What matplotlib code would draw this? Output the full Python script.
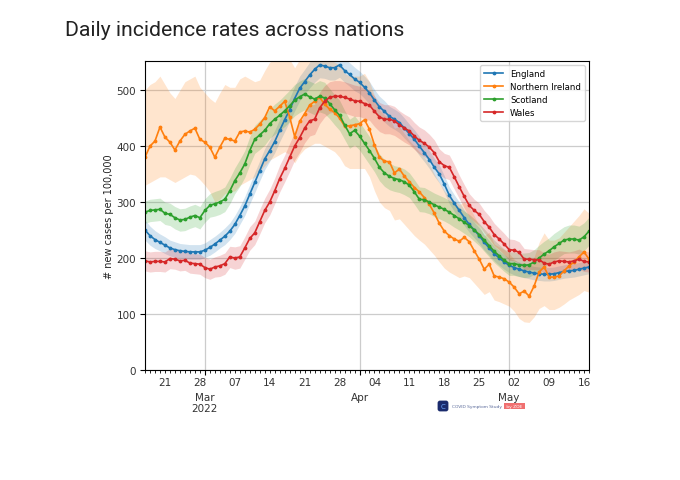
import numpy as np
import pandas as pd
import matplotlib
matplotlib.use("Agg")
import matplotlib.pyplot as plt
import matplotlib.dates as mdates
from matplotlib.ticker import FuncFormatter, FixedLocator, FixedFormatter
from matplotlib.patches import FancyBboxPatch

# ---------------- data ----------------
start_date = "2022-02-17"
end_date = "2022-05-17"

england = [250, 240, 233, 228, 223, 218, 215, 213, 212, 211,
           211, 211, 214, 219, 225, 232, 239, 248, 260, 276,
           293, 314, 335, 356, 377, 392, 408, 428, 447, 465,
           485, 503, 515, 527, 537, 545, 543, 540, 540, 545,
           535, 528, 520, 514, 505, 495, 482, 470, 462, 453,
           448, 442, 432, 422, 412, 400, 388, 376, 362, 350,
           332, 312, 298, 285, 272, 260, 250, 240, 228, 218,
           208, 200, 193, 187, 183, 180, 177, 175, 173, 172,
           171, 171, 172, 174, 176, 177, 178, 180, 182, 184]

northern_ireland = [380, 400, 409, 434, 416, 407, 393, 409, 421, 427,
                    432, 412, 407, 398, 380, 398, 414, 412, 409, 425,
                    427, 425, 430, 439, 451, 470, 463, 471, 480, 452,
                    417, 444, 458, 473, 480, 487, 475, 466, 460, 450,
                    436, 436, 438, 440, 447, 430, 402, 380, 373, 372,
                    352, 359, 346, 336, 326, 318, 308, 296, 280, 262,
                    248, 240, 234, 230, 237, 229, 213, 198, 180, 189,
                    168, 166, 163, 157, 148, 136, 141, 132, 150, 175,
                    184, 166, 166, 168, 177, 186, 193, 202, 211, 198]

scotland = [282, 285, 286, 287, 280, 278, 272, 268, 269, 273,
            276, 272, 285, 294, 297, 300, 305, 320, 338, 352,
            368, 392, 412, 420, 428, 440, 448, 455, 463, 472,
            482, 488, 493, 488, 484, 489, 486, 476, 465, 455,
            438, 422, 428, 418, 405, 392, 378, 362, 352, 346,
            342, 340, 336, 330, 318, 305, 304, 300, 295, 291,
            287, 282, 276, 270, 264, 258, 250, 242, 232, 222,
            212, 204, 196, 190, 190, 188, 187, 188, 193, 200,
            207, 213, 220, 226, 232, 234, 234, 232, 238, 248]

wales = [195, 193, 194, 194, 193, 199, 198, 195, 196, 191,
         190, 189, 183, 180, 184, 186, 190, 202, 200, 202,
         218, 235, 245, 265, 285, 300, 320, 342, 360, 380,
         400, 415, 432, 445, 448, 468, 480, 487, 489, 489,
         487, 484, 481, 480, 476, 473, 462, 452, 448, 448,
         445, 438, 432, 427, 418, 410, 405, 398, 388, 372,
         365, 362, 345, 327, 310, 294, 285, 278, 265, 255,
         242, 234, 225, 215, 214, 210, 198, 198, 197, 197,
         191, 189, 193, 195, 194, 193, 195, 198, 194, 193]

# half-widths of the shaded bands
england_err = [18, 17, 16, 15, 15, 14, 14, 13, 13, 13,
               13, 13, 13, 14, 14, 14, 15, 15, 16, 16,
               17, 17, 18, 18, 19, 19, 20, 20, 21, 21,
               22, 22, 22, 23, 23, 23, 22, 22, 22, 22,
               21, 21, 21, 20, 20, 20, 19, 19, 19, 18,
               18, 18, 18, 17, 17, 17, 16, 16, 16, 16,
               15, 15, 15, 15, 14, 14, 14, 14, 14, 13,
               13, 13, 13, 13, 13, 13, 12, 12, 12, 12,
               12, 12, 12, 12, 12, 12, 12, 12, 12, 12]

scotland_err = [20, 20, 20, 20, 20, 20, 20, 20, 20, 20,
                20, 20, 21, 21, 22, 22, 22, 23, 23, 24,
                24, 25, 25, 26, 26, 26, 27, 27, 28, 28,
                28, 28, 28, 28, 28, 28, 28, 27, 27, 27,
                26, 26, 26, 25, 25, 25, 24, 24, 24, 24,
                23, 23, 23, 22, 22, 22, 22, 21, 21, 21,
                21, 21, 21, 20, 20, 20, 20, 20, 20, 20,
                20, 20, 20, 21, 21, 21, 22, 22, 22, 23,
                23, 23, 24, 24, 24, 25, 25, 25, 25, 25]

wales_err = [18, 18, 18, 18, 18, 18, 18, 18, 18, 18,
             18, 18, 18, 18, 18, 19, 19, 19, 20, 20,
             20, 21, 21, 22, 22, 23, 23, 24, 24, 25,
             25, 26, 26, 27, 27, 28, 28, 28, 28, 28,
             28, 28, 28, 27, 27, 27, 27, 26, 26, 26,
             26, 25, 25, 25, 24, 24, 24, 23, 23, 23,
             22, 22, 22, 21, 21, 21, 20, 20, 20, 20,
             20, 19, 19, 19, 19, 19, 19, 18, 18, 18,
             18, 18, 18, 18, 18, 18, 18, 18, 18, 18]

ni_low = [330, 335, 340, 345, 345, 340, 335, 340, 345, 350,
          348, 340, 330, 318, 300, 305, 315, 318, 320, 330,
          335, 340, 345, 355, 365, 375, 380, 385, 390, 385,
          370, 385, 395, 400, 405, 405, 400, 395, 390, 380,
          365, 360, 360, 360, 360, 345, 320, 300, 290, 285,
          268, 270, 260, 250, 240, 232, 225, 215, 205, 193,
          182, 175, 170, 165, 168, 165, 155, 145, 135, 140,
          125, 122, 118, 114, 105, 92, 86, 85, 95, 110,
          115, 108, 108, 112, 118, 125, 130, 135, 142, 139]

ni_high = [500, 510, 515, 525, 510, 495, 485, 500, 515, 520,
           525, 505, 495, 485, 478, 495, 510, 505, 505, 520,
           525, 520, 515, 518, 535, 550, 555, 560, 570, 555,
           540, 555, 565, 570, 570, 575, 565, 555, 550, 545,
           530, 525, 525, 525, 530, 515, 490, 465, 455, 450,
           432, 435, 422, 410, 400, 390, 380, 368, 350, 335,
           320, 310, 302, 296, 300, 292, 275, 258, 240, 246,
           225, 220, 215, 208, 198, 190, 192, 185, 202, 228,
           245, 232, 232, 236, 246, 256, 266, 276, 288, 280]

series_names = ["England", "Northern Ireland", "Scotland", "Wales"]
series_colors = ["#1f77b4", "#ff7f0e", "#2ca02c", "#d62728"]

y_ticks = [0, 100, 200, 300, 400, 500]
month_ticks = ["2022-03-01", "2022-04-01", "2022-05-01"]
month_labels = ["Mar\n2022", "Apr", "May"]

title_text = "Daily incidence rates across nations"
y_label = "# new cases per 100,000"

# ---------------- plot ----------------
dates = pd.date_range(start_date, end_date, freq="D")

fig = plt.figure(figsize=(6.8, 4.81), dpi=100)
ax = fig.add_axes([145 / 680, 1 - 371 / 481, 444 / 680, 309 / 481])

values = [england, northern_ireland, scotland, wales]
lows = [np.array(england) - np.array(england_err), np.array(ni_low),
        np.array(scotland) - np.array(scotland_err),
        np.array(wales) - np.array(wales_err)]
highs = [np.array(england) + np.array(england_err), np.array(ni_high),
         np.array(scotland) + np.array(scotland_err),
         np.array(wales) + np.array(wales_err)]

for name, col, v, lo, hi in zip(series_names, series_colors, values, lows, highs):
    ax.fill_between(dates, lo, hi, color=col, alpha=0.2, linewidth=0)
    ax.plot(dates, v, color=col, linewidth=1.2, marker=".", markersize=3.5,
            label=name)

ax.set_xlim(dates[0], dates[-1])
ax.set_ylim(0, 552)
ax.set_yticks(y_ticks)
ax.tick_params(axis="y", labelsize=7.5, length=3.5, pad=3, labelcolor="#333333")

ax.xaxis.set_major_locator(FixedLocator(mdates.date2num(pd.to_datetime(month_ticks))))
ax.xaxis.set_major_formatter(FixedFormatter(month_labels))
ax.xaxis.set_minor_locator(mdates.DayLocator())


def minor_fmt(x, pos):
    d = mdates.num2date(x)
    return d.strftime("%d") if d.weekday() == 0 else ""


ax.xaxis.set_minor_formatter(FuncFormatter(minor_fmt))
ax.tick_params(axis="x", which="major", labelsize=7.5, length=3.5, pad=12,
               labelcolor="#333333")
ax.tick_params(axis="x", which="minor", labelsize=7.5, length=2, pad=3,
               labelcolor="#333333")

ax.grid(True, which="major", color="#cccccc", linewidth=0.9)
ax.set_axisbelow(True)
ax.set_ylabel(y_label, fontsize=7, labelpad=2, color="#222222")

ax.legend(loc="upper right", fontsize=6.2, frameon=True, borderpad=0.45,
          handlelength=2.2, labelspacing=0.45, borderaxespad=0.5)

fig.text(65 / 680, 1 - 30 / 481, title_text, fontsize=15.3, family="Roboto",
         fontweight="normal", va="center", ha="left", color="#222222")

# logo
logo_ax = fig.add_axes([437 / 680, 1 - 413 / 481, 12 / 680, 12 / 481])
logo_ax.set_xlim(0, 1)
logo_ax.set_ylim(0, 1)
logo_ax.axis("off")
logo_ax.add_patch(FancyBboxPatch((0.05, 0.05), 0.9, 0.9,
                                 boxstyle="round,pad=0,rounding_size=0.2",
                                 facecolor="#1a2b6d", edgecolor="none"))
logo_ax.text(0.5, 0.5, "C", color="#6fa8ff", fontsize=5, ha="center", va="center")
fig.text(452 / 680, 1 - 407 / 481, "COVID Symptom Study", fontsize=3.2,
         color="#5a6a9a", va="center", ha="left")
fig.text(505 / 680, 1 - 407 / 481, " by ZOE ", fontsize=3.2, color="white",
         va="center", ha="left",
         bbox=dict(boxstyle="square,pad=0.25", facecolor="#f07070", edgecolor="none"))

fig.savefig("out.png", dpi=100)
